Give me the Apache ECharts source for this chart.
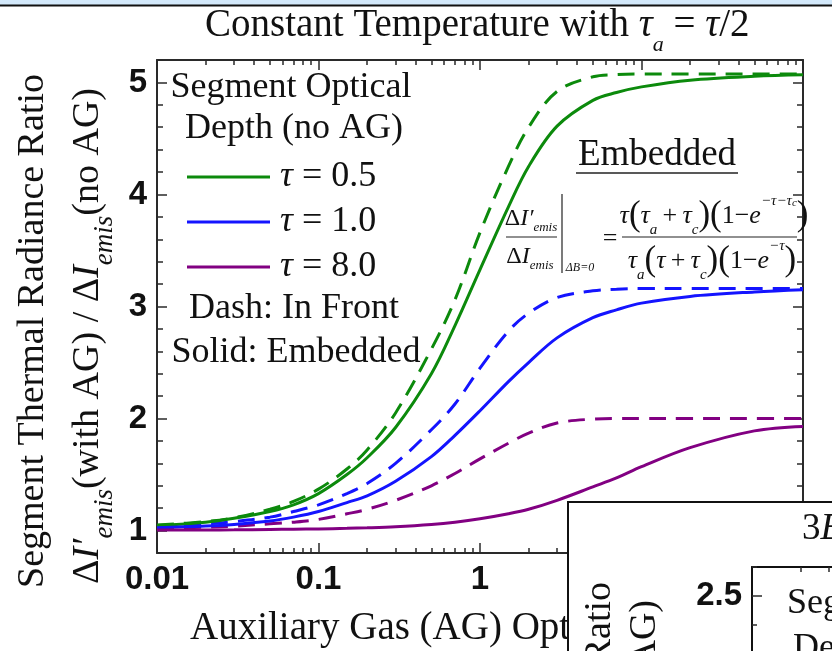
<!DOCTYPE html>
<html><head><meta charset="utf-8">
<script src="https://cdn.jsdelivr.net/npm/echarts@6/dist/echarts.min.js"></script>
<style>html,body{margin:0;padding:0;background:#fff}#c{width:832px;height:651px}</style>
</head><body><div id="c"></div>
<script>
// ---------------- data ----------------
const xValues        = [0.01,0.02,0.03,0.05,0.07,0.1,0.15,0.2,0.3,0.5,0.7,1,1.5,2,3,5,7,10,20,50,100];
const greenEmbedded  = [1.045,1.075,1.11,1.17,1.23,1.33,1.50,1.65,1.92,2.40,2.83,3.33,3.89,4.25,4.61,4.84,4.91,4.96,5.02,5.055,5.068];
const greenInFront   = [1.05,1.08,1.115,1.19,1.26,1.37,1.55,1.72,2.05,2.62,3.06,3.66,4.25,4.60,4.92,5.05,5.07,5.075,5.075,5.075,5.075];
const blueEmbedded   = [1.025,1.04,1.055,1.085,1.12,1.17,1.25,1.31,1.44,1.66,1.85,2.07,2.33,2.50,2.72,2.90,2.97,3.03,3.09,3.13,3.15];
const blueInFront    = [1.04,1.06,1.08,1.12,1.17,1.23,1.33,1.42,1.60,1.90,2.13,2.45,2.78,2.94,3.08,3.14,3.155,3.16,3.16,3.16,3.16];
const purpleEmbedded = [1.005,1.006,1.007,1.01,1.012,1.015,1.02,1.025,1.035,1.055,1.075,1.105,1.15,1.19,1.27,1.39,1.47,1.57,1.74,1.89,1.93];
const purpleInFront  = [1.02,1.03,1.04,1.06,1.075,1.10,1.15,1.19,1.27,1.40,1.51,1.64,1.78,1.87,1.96,1.995,2.0,2.0,2.0,2.0,2.0];
const seriesNames    = ['τ = 0.5','τ = 1.0','τ = 8.0'];
const xMinorTicks    = [0.02,0.03,0.04,0.05,0.06,0.07,0.08,0.09,0.2,0.3,0.4,0.5,0.6,0.7,0.8,0.9,2,3,4,5,6,7,8,9,20,30,40,50,60,70,80,90];
const yMajorTicks    = [1,2,3,4,5];
const insetYTicks    = [2.5,2.0,1.5,1.0];

// -------------- styling helpers --------------
const SERIF = "'Liberation Serif','Times New Roman',serif";
const SANS = "'Liberation Sans',Arial,sans-serif";
const AX = '#2a2a2a';
const C_GREEN = '#0c8a0c', C_BLUE = '#1414ff', C_PURPLE = '#820082';
const pairs = arr => xValues.map((x, i) => [x, arr[i]]);
const logMinor = xMinorTicks.map(v => Math.log10(v));

function line(name, data, color, dashed) {
  return {
    type: 'line', name, data: pairs(data), xAxisIndex: 0, yAxisIndex: 0,
    showSymbol: false, smooth: 0.35, z: 3,
    lineStyle: { color, width: 3, type: dashed ? [17, 10] : 'solid' },
    itemStyle: { color }
  };
}

const mainX = (pos, labels) => ({
  type: 'log', logBase: 10, gridIndex: 0, min: 0.01, max: 100, position: pos,
  axisLine: { show: true, onZero: false, lineStyle: { color: AX, width: 2 } },
  axisTick: { show: true, inside: true, length: 10, lineStyle: { color: AX, width: 1.5 } },
  axisLabel: labels ? { show: true, margin: 10, fontFamily: SANS, fontWeight: 'bold', fontSize: 33, color: '#111',
    formatter: v => String(+v.toPrecision(3)) } : { show: false },
  splitLine: { show: false }
});
const minorX = (pos, grid) => ({
  type: 'value', gridIndex: grid, min: -2, max: 2, position: pos,
  axisLine: { show: false, onZero: false },
  axisTick: { show: true, inside: true, length: 5, customValues: logMinor, lineStyle: { color: AX, width: 1.5 } },
  axisLabel: { show: false }, splitLine: { show: false }
});
const mainY = (pos, labels) => ({
  type: 'value', gridIndex: 0, min: 0.8, max: 5.2, position: pos,
  axisLine: { show: true, onZero: false, lineStyle: { color: AX, width: 2 } },
  axisTick: { show: true, inside: true, length: 10, customValues: yMajorTicks, lineStyle: { color: AX, width: 1.5 } },
  axisLabel: labels ? { show: true, customValues: yMajorTicks, margin: 10, fontFamily: SANS, fontWeight: 'bold', fontSize: 33, color: '#111' } : { show: false },
  splitLine: { show: false }
});
const minorY = pos => ({
  type: 'value', gridIndex: 0, min: 0.8, max: 5.2, interval: 0.2, position: pos,
  axisLine: { show: false, onZero: false },
  axisTick: { show: true, inside: true, length: 6, lineStyle: { color: AX, width: 1.5 } },
  axisLabel: { show: false }, splitLine: { show: false }
});

const txt = (x, y, text, size, extra) => Object.assign({
  type: 'text', x, y, z: 10,
  style: Object.assign({ text, fontFamily: SERIF, fontSize: size, fill: '#111', align: 'center', verticalAlign: 'middle' }, extra || {})
});

const subRich = (n, s, lh) => ({
  n: { fontFamily: SERIF, fontSize: n, fill: '#111', lineHeight: lh },
  i: { fontFamily: SERIF, fontSize: n, fontStyle: 'italic', fill: '#111', lineHeight: lh },
  s: { fontFamily: SERIF, fontSize: s, fontStyle: 'italic', fill: '#111', lineHeight: lh, verticalAlign: 'bottom' },
  u: { fontFamily: SERIF, fontSize: s, fontStyle: 'italic', fill: '#111', lineHeight: lh, verticalAlign: 'top' },
  w: { fontFamily: SERIF, fontSize: Math.round(s * 0.7), fontStyle: 'italic', fill: '#111', lineHeight: lh - 8, verticalAlign: 'top', padding: [4, 0, 0, 0] },
  p: { fontFamily: SERIF, fontSize: Math.round(n * 1.35), fill: '#111', lineHeight: lh }
});
const rot = g => Object.assign(g, { rotation: Math.PI / 2 });
const T = '\u2009';

const chart = echarts.init(document.getElementById('c'), null, { renderer: 'canvas' });
chart.setOption({
  animation: false,
  backgroundColor: '#fff',
  title: {
    left: 205, top: -4, padding: 0,
    text: '{n|Constant Temperature with }{i|τ}{s|a}{n| = }{i|τ}{n|/2}',
    textStyle: { fontWeight: 'normal', rich: {
      n: { fontFamily: SERIF, fontSize: 39, fontWeight: 'normal', color: '#111', lineHeight: 60 },
      i: { fontFamily: SERIF, fontSize: 39, fontWeight: 'normal', fontStyle: 'italic', color: '#111', lineHeight: 60 },
      s: { fontFamily: SERIF, fontSize: 22, fontWeight: 'normal', fontStyle: 'italic', color: '#111', lineHeight: 60, verticalAlign: 'bottom' }
    } }
  },
  grid: [
    { left: 157, top: 60, width: 646, height: 493, outerBoundsMode: 'none', containLabel: false },
    { left: 752, top: 567, width: 646, height: 609, outerBoundsMode: 'none', containLabel: false }
  ],
  legend: {
    data: seriesNames, orient: 'vertical', left: 187, top: 159, padding: 0,
    icon: 'rect', itemWidth: 83, itemHeight: 3, itemGap: 9,
    textStyle: { fontFamily: SERIF, fontSize: 36, color: '#111', lineHeight: 36, padding: [0, 0, 0, 5],
      rich: { i: { fontFamily: SERIF, fontSize: 36, fontStyle: 'italic', color: '#111', lineHeight: 36 } } },
    formatter: n => n.replace('τ', '{i|τ}')
  },
  xAxis: [
    mainX('bottom', true), minorX('bottom', 0), mainX('top', false), minorX('top', 0),
    Object.assign(minorX('top', 1), { z: 60, axisLine: { show: true, onZero: false, lineStyle: { color: '#111', width: 2 } } })
  ],
  yAxis: [
    mainY('left', true), minorY('left'), mainY('right', false), minorY('right'),
    { type: 'value', gridIndex: 1, min: 0.5, max: 2.6, position: 'left', z: 60,
      axisLine: { show: true, onZero: false, lineStyle: { color: '#111', width: 2 } },
      axisTick: { show: true, inside: true, length: 10, customValues: insetYTicks, lineStyle: { color: AX, width: 1.5 } },
      axisLabel: { show: true, customValues: insetYTicks, margin: 10, fontFamily: SANS, fontWeight: 'bold', fontSize: 33, color: '#111',
        formatter: v => v.toFixed(1) },
      splitLine: { show: false } },
    { type: 'value', gridIndex: 1, min: 0.5, max: 2.6, interval: 0.1, position: 'left', z: 60,
      axisLine: { show: false, onZero: false }, axisTick: { show: true, inside: true, length: 5, lineStyle: { color: AX, width: 1.5 } },
      axisLabel: { show: false }, splitLine: { show: false } }
  ],
  series: [
    line('τ = 0.5 (In Front)', greenInFront, C_GREEN, true),
    line('τ = 1.0 (In Front)', blueInFront, C_BLUE, true),
    line('τ = 8.0 (In Front)', purpleInFront, C_PURPLE, true),
    line(seriesNames[0], greenEmbedded, C_GREEN, false),
    line(seriesNames[1], blueEmbedded, C_BLUE, false),
    line(seriesNames[2], purpleEmbedded, C_PURPLE, false)
  ],
  graphic: [
    // top slide band
    { type: 'rect', shape: { x: 0, y: 0, width: 832, height: 5 }, style: { fill: '#d3e9fb' }, z: 1 },
    { type: 'line', shape: { x1: 0, y1: 5.5, x2: 832, y2: 5.5 }, style: { stroke: '#111', lineWidth: 2 }, z: 1 },
    // legend heading / footer
    txt(291, 88, 'Segment Optical', 36),
    txt(294, 129, 'Depth (no AG)', 36),
    txt(294, 309, 'Dash: In Front', 36),
    txt(296, 353, 'Solid: Embedded', 36),
    // Embedded label
    txt(657, 155, 'Embedded', 37),
    { type: 'line', shape: { x1: 576, y1: 173, x2: 738, y2: 173 }, style: { stroke: '#222', lineWidth: 1.5 }, z: 10 },
    // formula: left fraction
    txt(531, 219, '{n|Δ}{i|I′}{s|emis}', 24, { rich: subRich(24, 13, 30) }),
    { type: 'line', shape: { x1: 506, y1: 237, x2: 557, y2: 237 }, style: { stroke: '#222', lineWidth: 1.2 }, z: 10 },
    txt(530, 257, '{n|Δ}{i|I}{s|emis}', 24, { rich: subRich(24, 13, 30) }),
    { type: 'line', shape: { x1: 562, y1: 194, x2: 562, y2: 273 }, style: { stroke: '#222', lineWidth: 1.2 }, z: 10 },
    txt(580, 268, 'ΔB=0', 12, { fontStyle: 'italic' }),
    txt(610, 239, '=', 26),
    // formula: right fraction
    txt(714, 216, '{i|τ}{p|(}{i|τ}{s|a}{n|' + T + '+' + T + '}{i|τ}{s|c}{p|)}{p|(}{n|1−}{i|e}{u|−τ−τ}{w|c}{p|)}', 26, { rich: subRich(26, 15, 44) }),
    { type: 'line', shape: { x1: 622, y1: 237, x2: 797, y2: 237 }, style: { stroke: '#222', lineWidth: 1.2 }, z: 10 },
    txt(712, 261, '{i|τ}{s|a}{p|(}{i|τ}{n|' + T + '+' + T + '}{i|τ}{s|c}{p|)}{p|(}{n|1−}{i|e}{u|−τ}{p|)}', 26, { rich: subRich(26, 15, 44) }),
    // axis titles
    rot(txt(33, 331, 'Segment Thermal Radiance Ratio', 38)),
    rot(txt(88, 336, '{n|Δ}{i|I′}{s|emis}{n|(with AG) / Δ}{i|I}{s|emis}{n|(no AG)}', 38, { rich: subRich(38, 27, 60) })),
    txt(190, 629, 'Auxiliary Gas (AG) Optical Depth', 39, { align: 'left' }),
    // overlapping second figure
    { type: 'rect', shape: { x: 568, y: 502, width: 320, height: 200 }, style: { fill: '#fff', stroke: '#111', lineWidth: 2 }, z: 50 },
    Object.assign(txt(802, 529, '{n|3}{i|E}', 37, { align: 'left', rich: subRich(37, 20, 40) }), { z: 61 }),
    Object.assign(txt(787, 604, 'Segment Optical', 36, { align: 'left' }), { z: 61 }),
    Object.assign(txt(793, 649, 'Depth (no AG)', 36, { align: 'left' }), { z: 61 }),
    Object.assign(rot(txt(600, 582, 'Segment Thermal Radiance Ratio', 38, { align: 'right' })), { z: 61 }),
    Object.assign(rot(txt(645, 600, '{n|Δ}{i|I′}{s|emis}{n|(with AG) / Δ}{i|I}{s|emis}{n|(no AG)}', 38, { align: 'right', rich: subRich(38, 27, 60) })), { z: 61 })
  ]
});
</script></body></html>
